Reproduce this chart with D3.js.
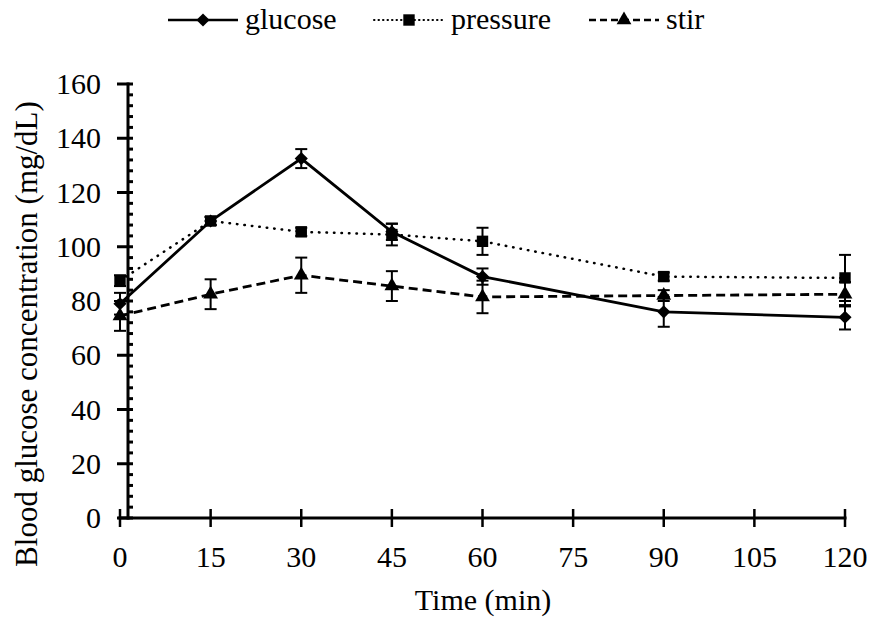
<!DOCTYPE html>
<html>
<head>
<meta charset="utf-8">
<script src="https://cdn.jsdelivr.net/npm/d3@7"></script>
<style>
  body { margin: 0; background: #fff; }
</style>
</head>
<body>
<svg id="chart" width="874" height="622" font-family="'Liberation Serif', 'Times New Roman', serif"></svg>
<script>
const times = [0, 15, 30, 45, 60, 90, 120];
const glucose = [79, 109.5, 132.5, 105.5, 89, 76, 74];
const glucoseErr = [4, 1.5, 3.5, 3, 3, 5.5, 4.5];
const pressure = [87.5, 109.5, 105.5, 104.5, 102, 89, 88.5];
const pressureErr = [2, 1.5, 1.5, 4, 5, 1.5, 8.5];
const stir = [74.5, 82.5, 89.5, 85.5, 81.5, 82, 82.5];
const stirErr = [5.5, 5.5, 6.5, 5.5, 6, 2, 4.5];
const xTicks = [0, 15, 30, 45, 60, 75, 90, 105, 120];
const yTicks = [0, 20, 40, 60, 80, 100, 120, 140, 160];

const svg = d3.select("#chart");
const x = d3.scaleLinear().domain([0, 120]).range([120, 845]);
const y = d3.scaleLinear().domain([0, 160]).range([518, 84]);
const yAxisX = x(0) + 8;
const fs = "30px";

// y axis
svg.append("line").attr("x1", yAxisX).attr("x2", yAxisX)
  .attr("y1", y(160) - 1.5).attr("y2", y(0) + 1.5)
  .attr("stroke", "#000").attr("stroke-width", 3);
d3.range(0, 161, 4).forEach((v) => {
  const major = v % 20 === 0;
  svg.append("line")
    .attr("x1", major ? yAxisX - 11 : yAxisX).attr("x2", yAxisX + 5)
    .attr("y1", y(v)).attr("y2", y(v))
    .attr("stroke", "#000").attr("stroke-width", 3);
});
svg.selectAll(".ylab").data(yTicks).enter().append("text")
  .attr("x", 101).attr("y", (d) => y(d) + 10)
  .attr("text-anchor", "end").style("font-size", fs).text((d) => d);

// x axis
svg.append("line").attr("x1", x(0) - 1.5).attr("x2", x(120) + 1.5)
  .attr("y1", y(0)).attr("y2", y(0))
  .attr("stroke", "#000").attr("stroke-width", 3);
svg.selectAll(".xtick").data(xTicks).enter().append("line")
  .attr("x1", (d) => x(d)).attr("x2", (d) => x(d))
  .attr("y1", y(0) - 9).attr("y2", y(0) + 9)
  .attr("stroke", "#000").attr("stroke-width", 2.5);
svg.selectAll(".xlab").data(xTicks).enter().append("text")
  .attr("x", (d) => x(d)).attr("y", 567)
  .attr("text-anchor", "middle").style("font-size", fs).text((d) => d);

svg.append("text").attr("x", 483).attr("y", 610)
  .attr("text-anchor", "middle").style("font-size", fs).text("Time (min)");
svg.append("text").attr("transform", "translate(37,334) rotate(-90)")
  .attr("text-anchor", "middle").style("font-size", "31px")
  .text("Blood glucose concentration (mg/dL)");

// markers
const diamond = d3.symbol().type(d3.symbolDiamond2).size(110);
const square = d3.symbol().type(d3.symbolSquare).size(130);
const triangle = d3.symbol().type(d3.symbolTriangle).size(95);

const series = [
  { name: "glucose", vals: glucose, err: glucoseErr, dash: null, legDash: null, sym: diamond, lx: 168 },
  { name: "pressure", vals: pressure, err: pressureErr, dash: "0.5,7", legDash: "0.5,4", sym: square, lx: 374 },
  { name: "stir", vals: stir, err: stirErr, dash: "9,5", legDash: "7,4", sym: triangle, lx: 589 }
];

const line = d3.line().x((d) => x(d[0])).y((d) => y(d[1]));

series.forEach((s) => {
  const pts = times.map((t, i) => [t, s.vals[i], s.err[i]]);
  const dotted = s.name === "pressure";
  const g = svg.append("g");
  // error bars
  pts.forEach((p) => {
    const cx = x(p[0]), top = y(p[1] + p[2]), bot = y(p[1] - p[2]);
    g.append("line").attr("x1", cx).attr("x2", cx).attr("y1", top).attr("y2", bot)
      .attr("stroke", "#000").attr("stroke-width", 2);
    [top, bot].forEach((yy) => g.append("line")
      .attr("x1", cx - 6).attr("x2", cx + 6).attr("y1", yy).attr("y2", yy)
      .attr("stroke", "#000").attr("stroke-width", 2));
  });
  g.append("path").datum(pts).attr("d", line).attr("fill", "none")
    .attr("stroke", "#000").attr("stroke-width", dotted ? 2.5 : 2.8)
    .attr("stroke-linecap", dotted ? "round" : "butt")
    .attr("stroke-dasharray", s.dash);
  g.selectAll("path.m").data(pts).enter().append("path").attr("class", "m")
    .attr("transform", (d) => `translate(${x(d[0])},${y(d[1])})`)
    .attr("d", s.sym).attr("fill", "#000");

  // legend
  svg.append("line").attr("x1", s.lx).attr("x2", s.lx + 70).attr("y1", 20).attr("y2", 20)
    .attr("stroke", "#000").attr("stroke-width", dotted ? 2 : 2.5)
    .attr("stroke-linecap", dotted ? "round" : "butt")
    .attr("stroke-dasharray", s.legDash);
  svg.append("path").attr("transform", `translate(${s.lx + 35},20)`)
    .attr("d", s.sym).attr("fill", "#000");
  svg.append("text").attr("x", s.lx + 77).attr("y", 29)
    .style("font-size", fs).text(s.name);
});
</script>
</body>
</html>
